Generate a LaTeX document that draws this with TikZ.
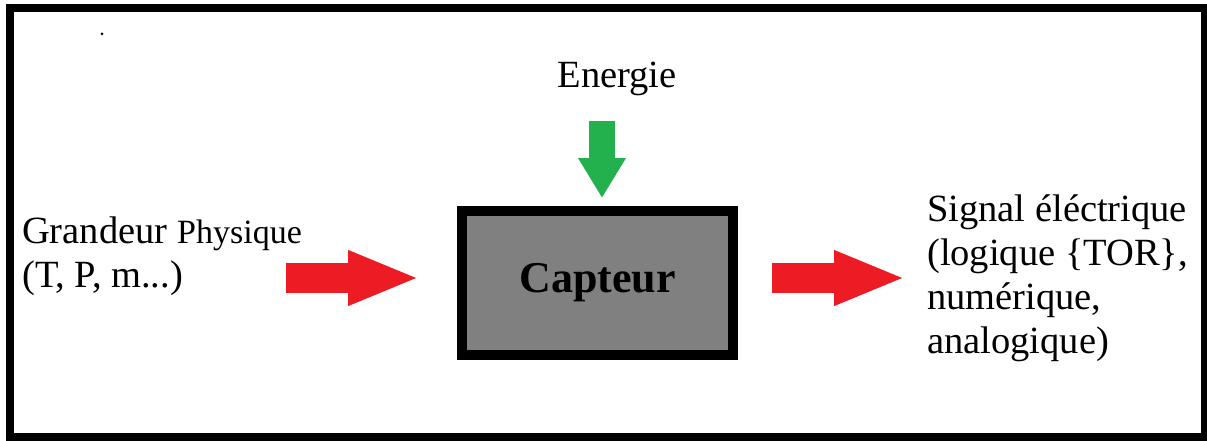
\documentclass[tikz,border=0pt]{standalone}
\usepackage{fontspec}
\setmainfont{Liberation Serif}
\usetikzlibrary{arrows.meta}
\definecolor{flecherouge}{RGB}{237,28,36}
\definecolor{flecheverte}{RGB}{34,177,76}

\begin{document}
\begin{tikzpicture}
	[x=1pt, y=-1pt,
	 txt/.style={inner sep=0pt, align=left, font=\fontsize{38.5}{44}\selectfont},
	 bloc/.style={draw, line width=10pt, fill=black!50, minimum width=271pt, minimum height=144pt, inner sep=0pt},
	 grosse/.style={line width=30pt, -{Triangle[length=72pt, width=50pt]}}]
	\useasboundingbox (0,0) rectangle (1207,441);
	\draw [line width=8pt] (10,8.5) rectangle (1205,437);
	\fill (102,34) circle (1.5pt);

	\node (cap) [bloc] at (597.5,283) {\fontsize{44}{50}\selectfont\bfseries Capteur};
	\node (ener) [txt, anchor=base] at (617,88) {Energie};
	\node (grand) [txt, anchor=base west] at (22,287)
		{Grandeur {\fontsize{34}{44}\selectfont Physique}\\(T, P, m...)};
	\node (sig) [txt, anchor=base west] at (927,353)
		{Signal éléctrique\\(logique \{TOR\},\\numérique,\\analogique)};

	\coordinate (entree) at (286,278);
	\coordinate (sortie) at (906,278);
	\coordinate (alim) at (602,121);

	\draw [grosse, flecherouge, shorten >=37pt] (entree) -- (entree -| cap.west);
	\draw [grosse, flecherouge, shorten <=34pt] (sortie -| cap.east) -- (sortie);
	\draw [line width=26pt, flecheverte, -{Triangle[length=40pt, width=45pt]}, shorten >=8pt]
		(alim) -- (alim |- cap.north);
\end{tikzpicture}
\end{document}
